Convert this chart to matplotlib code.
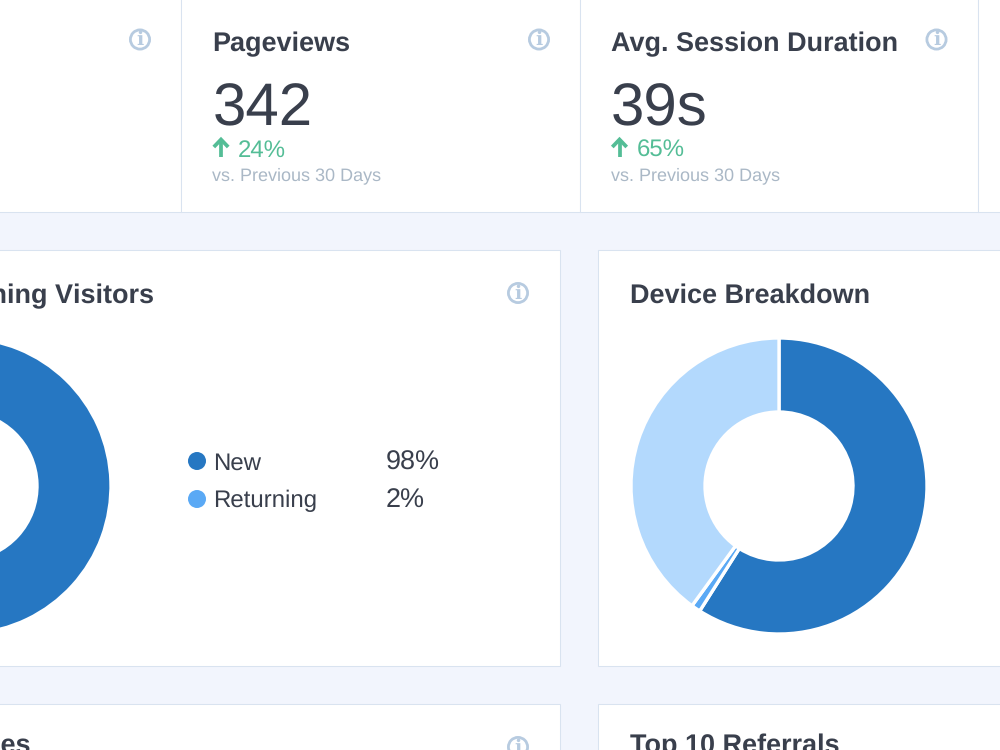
import matplotlib
matplotlib.use('Agg')
import matplotlib.pyplot as plt
from matplotlib.patches import Rectangle, Circle

plt.rcParams['font.family'] = ['Liberation Sans', 'DejaVu Sans']
plt.rcParams['text.hinting'] = 'none'
plt.rcParams['text.hinting_factor'] = 1

stat_titles = ['Pageviews', 'Avg. Session Duration']
stat_values = ['342', '39s']
stat_changes = [24, 65]
stat_note = 'vs. Previous 30 Days'

visitor_labels = ['New', 'Returning']
visitor_values = [98, 2]
device_values = [59, 1, 40]

DARK = '#2677c2'
MID = '#5aa9f5'
LIGHT = '#b3d9fd'
BG = '#f2f5fd'
BORDER = '#d9e3f0'
TEXT = '#393f4c'
GREEN = '#54bd96'
MUTED = '#aab8c6'
ICON = '#b7cbe0'
TITLE_SIZE = 19.4


def card(ax, x0, y0, x1, y1):
    ax.add_patch(Rectangle((x0, y0), x1 - x0, y1 - y0, fc='white', ec=BORDER, lw=0.75, zorder=1))


def info(ax, x, y):
    ax.add_patch(Circle((x, y), 9.6, fc='white', ec=ICON, lw=2.0, zorder=2))
    ax.text(x, y + 0.5, 'i', color=ICON, fontsize=13.5, fontweight='bold', family='DejaVu Serif',
            ha='center', va='center', zorder=3)


def up_arrow(ax, x):
    ax.plot([x, x], [157, 140], color=GREEN, lw=2.7, solid_capstyle='butt', zorder=3)
    ax.plot([x - 7.2, x, x + 7.2], [147, 139.5, 147], color=GREEN, lw=2.7, solid_capstyle='butt',
            solid_joinstyle='miter', zorder=3)


def donut(fig, cx, cy, values, colors):
    # pie axes placed by pixel centre, 150px radius box
    r = 150
    a = fig.add_axes([(cx - r) / 1000, 1 - (cy + r) / 750, 2 * r / 1000, 2 * r / 750])
    a.pie(values, colors=colors, startangle=90, counterclock=False, radius=148 / r,
          wedgeprops={'width': 74 / r, 'edgecolor': 'white', 'linewidth': 2.4})
    a.set_xlim(-1, 1)
    a.set_ylim(-1, 1)
    a.axis('off')


fig = plt.figure(figsize=(10, 7.5), dpi=100, facecolor=BG)
ax = fig.add_axes([0, 0, 1, 1])
ax.set_xlim(0, 1000)
ax.set_ylim(750, 0)
ax.axis('off')

# top stat row
card(ax, -10, -10, 181, 212)
card(ax, 181, -10, 580, 212)
card(ax, 580, -10, 978, 212)
card(ax, 978, -10, 1010, 212)
info(ax, 140, 39.5)

for i in range(len(stat_titles)):
    x = [212.5, 611][i]
    ax.text(x, 51, stat_titles[i], color=TEXT, fontsize=TITLE_SIZE, fontweight='bold', va='baseline', zorder=3)
    ax.text(x, 125, stat_values[i], color=TEXT, fontsize=43, va='baseline', zorder=3)
    up_arrow(ax, x + 8.5)
    ax.text(x + 25.5, 157, str(stat_changes[i]) + '%', color=GREEN, fontsize=17, va='baseline', zorder=3)
    ax.text(x, 180, stat_note, color=MUTED, fontsize=13, va='baseline', zorder=3)
    info(ax, [539, 936.5][i], 39.5)

# middle and bottom cards
card(ax, -10, 250, 560, 666)
card(ax, 598, 250, 1010, 666)
card(ax, -10, 704, 560, 770)
card(ax, 598, 704, 1010, 770)

ax.text(154, 303, 'Returning Visitors', color=TEXT, fontsize=TITLE_SIZE, fontweight='bold', ha='right', va='baseline', zorder=3)
ax.text(630, 303, 'Device Breakdown', color=TEXT, fontsize=TITLE_SIZE, fontweight='bold', va='baseline', zorder=3)
ax.text(31, 753, 'Top 10 Countries', color=TEXT, fontsize=TITLE_SIZE, fontweight='bold', ha='right', va='baseline', zorder=3)
ax.text(630, 753, 'Top 10 Referrals', color=TEXT, fontsize=TITLE_SIZE, fontweight='bold', va='baseline', zorder=3)
info(ax, 518, 293)
info(ax, 518, 747)

# legend for the visitors donut
for i in range(len(visitor_labels)):
    y = [461, 499][i]
    ax.add_patch(Circle((197, y), 9, fc=[DARK, MID][i], ec='none', zorder=3))
    ax.text(213.5, y + 8.5, visitor_labels[i], color=TEXT, fontsize=17.2, va='baseline', zorder=3)
    ax.text(386, y + 8.5, str(visitor_values[i]) + '%', color=TEXT, fontsize=19.5, va='baseline', zorder=3)

donut(fig, -37, 486, visitor_values, [DARK, MID])
donut(fig, 779, 486, device_values, [DARK, MID, LIGHT])

fig.savefig('out.png', dpi=100, facecolor=BG)
